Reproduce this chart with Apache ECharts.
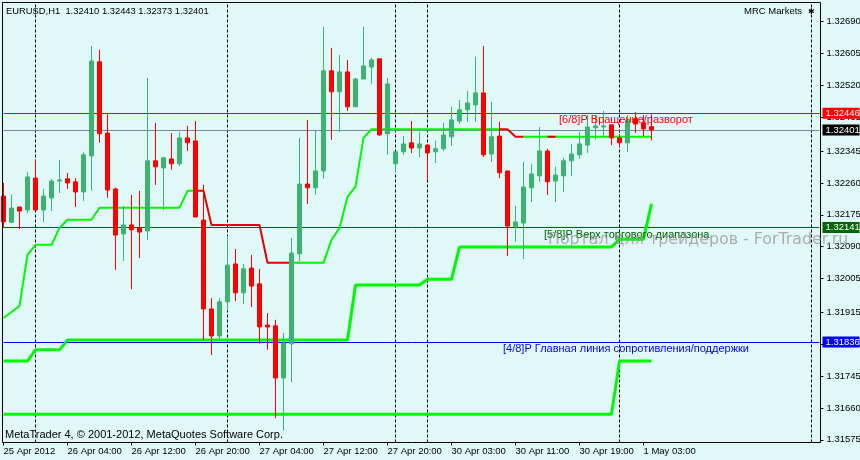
<!DOCTYPE html>
<html>
<head>
<meta charset="utf-8">
<style>html,body{margin:0;padding:0;background:#E0F8F8}#chart{width:860px;height:460px}</style>
<script src="https://cdn.jsdelivr.net/npm/echarts@6/dist/echarts.min.js"></script>
</head>
<body>
<div id="chart"></div>
<script>
// bars of EURUSD H1
var opens = [
  1.32225,1.32155,1.32196,1.32188,1.32273,1.32188,1.32220,1.32265,1.32271,1.32263,
  1.32236,1.32332,1.32583,1.32393,1.32244,1.32124,1.32148,1.32140,1.32132,1.32319,
  1.32300,1.32324,1.32311,1.32380,1.32372,1.32161,1.31924,1.31852,1.31943,1.32044,
  1.31967,1.32033,1.31991,1.31881,1.31879,1.31740,1.31831,1.32071,1.32257,1.32247,
  1.32292,1.32559,1.32503,1.32556,1.32463,1.32537,1.32569,1.32591,1.32391,1.32311,
  1.32343,1.32367,1.32353,1.32361,1.32343,1.32351,1.32383,1.32425,1.32455,1.32468,
  1.32500,1.32337,1.32385,1.32292,1.32143,1.32153,1.32247,1.32279,1.32345,1.32265,
  1.32279,1.32319,1.32335,1.32361,1.32407,1.32409,1.32415,1.32380,1.32367,1.32431,
  1.32420,1.32410
];
var closes = [
  1.32156,1.32193,1.32185,1.32276,1.32188,1.32225,1.32265,1.32268,1.32260,1.32236,
  1.32335,1.32585,1.32391,1.32241,1.32121,1.32148,1.32135,1.32129,1.32319,1.32303,
  1.32327,1.32311,1.32380,1.32367,1.32169,1.31924,1.31852,1.31943,1.32041,1.31967,
  1.32031,1.31985,1.31876,1.31876,1.31740,1.31833,1.32073,1.32257,1.32247,1.32292,
  1.32559,1.32503,1.32556,1.32463,1.32537,1.32572,1.32588,1.32388,1.32524,1.32343,
  1.32364,1.32353,1.32364,1.32340,1.32351,1.32388,1.32428,1.32455,1.32473,1.32500,
  1.32335,1.32383,1.32287,1.32145,1.32156,1.32249,1.32284,1.32345,1.32263,1.32281,
  1.32319,1.32337,1.32364,1.32409,1.32412,1.32412,1.32380,1.32367,1.32428,1.32417,
  1.32404,1.32401
];
var lows = [
  1.32140,1.32153,1.32137,1.32180,1.32188,1.32156,1.32185,1.32233,1.32244,1.32196,
  1.32212,1.32239,1.32367,1.32220,1.32028,1.32052,1.31977,1.32060,1.32108,1.32255,
  1.32188,1.32295,1.32305,1.32345,1.32169,1.31841,1.31801,1.31841,1.31919,1.31945,
  1.31937,1.31929,1.31831,1.31815,1.31633,1.31599,1.31729,1.32052,1.32204,1.32228,
  1.32271,1.32375,1.32396,1.32452,1.32463,1.32537,1.32524,1.32385,1.32335,1.32287,
  1.32335,1.32340,1.32329,1.32268,1.32313,1.32345,1.32359,1.32417,1.32423,1.32423,
  1.32329,1.32316,1.32273,1.32065,1.32103,1.32057,1.32209,1.32263,1.32228,1.32209,
  1.32236,1.32279,1.32324,1.32340,1.32375,1.32383,1.32361,1.32356,1.32343,1.32393,
  1.32385,1.32373
];
var highs = [
  1.32260,1.32228,1.32196,1.32289,1.32321,1.32244,1.32271,1.32321,1.32287,1.32273,
  1.32343,1.32625,1.32615,1.32447,1.32247,1.32199,1.32228,1.32239,1.32540,1.32420,
  1.32329,1.32393,1.32396,1.32412,1.32425,1.32255,1.31953,1.31953,1.32119,1.32084,
  1.32044,1.32068,1.32031,1.31913,1.31895,1.31860,1.32113,1.32380,1.32428,1.32399,
  1.32676,1.32620,1.32601,1.32588,1.32540,1.32676,1.32593,1.32591,1.32540,1.32343,
  1.32385,1.32425,1.32396,1.32361,1.32372,1.32420,1.32463,1.32481,1.32505,1.32596,
  1.32625,1.32476,1.32423,1.32292,1.32199,1.32316,1.32311,1.32409,1.32351,1.32303,
  1.32327,1.32364,1.32396,1.32441,1.32441,1.32452,1.32415,1.32388,1.32441,1.32449,
  1.32441,1.32443
];

// the three channel lines
var upperLine = [
  1.31900,1.31916,1.31932,1.32068,1.32095,1.32095,1.32095,1.32140,1.32162,1.32162,
  1.32162,1.32162,1.32194,1.32194,1.32194,1.32194,1.32194,1.32194,1.32194,1.32194,
  1.32194,1.32194,1.32194,1.32239,1.32239,1.32239,1.32148,1.32148,1.32148,1.32148,
  1.32148,1.32148,1.32148,1.32047,1.32047,1.32047,1.32047,1.32047,1.32047,1.32047,
  1.32047,1.32108,1.32140,1.32223,1.32250,1.32380,1.32403,1.32403,1.32403,1.32403,
  1.32403,1.32403,1.32403,1.32403,1.32403,1.32403,1.32403,1.32403,1.32403,1.32403,
  1.32403,1.32403,1.32403,1.32403,1.32383,1.32383,1.32383,1.32383,1.32383,1.32383,
  1.32383,1.32383,1.32383,1.32383,1.32383,1.32383,1.32383,1.32383,1.32383,1.32383,
  1.32383,1.32383
];
var middleLine = [
  1.31785,1.31785,1.31785,1.31785,1.31815,1.31815,1.31815,1.31815,1.31841,1.31841,
  1.31841,1.31841,1.31841,1.31841,1.31841,1.31841,1.31841,1.31841,1.31841,1.31841,
  1.31841,1.31841,1.31841,1.31841,1.31841,1.31841,1.31841,1.31841,1.31841,1.31841,
  1.31841,1.31841,1.31841,1.31841,1.31841,1.31841,1.31841,1.31841,1.31841,1.31841,
  1.31841,1.31841,1.31841,1.31841,1.31988,1.31988,1.31988,1.31988,1.31988,1.31988,
  1.31988,1.31988,1.31988,1.32003,1.32003,1.32003,1.32003,1.32089,1.32089,1.32089,
  1.32089,1.32089,1.32089,1.32089,1.32089,1.32089,1.32089,1.32089,1.32089,1.32089,
  1.32089,1.32089,1.32089,1.32089,1.32089,1.32089,1.32089,1.32110,1.32110,1.32110,
  1.32110,1.32204
];
var lowerLine = [
  1.31643,1.31643,1.31643,1.31643,1.31643,1.31643,1.31643,1.31643,1.31643,1.31643,
  1.31643,1.31643,1.31643,1.31643,1.31643,1.31643,1.31643,1.31643,1.31643,1.31643,
  1.31643,1.31643,1.31643,1.31643,1.31643,1.31643,1.31643,1.31643,1.31643,1.31643,
  1.31643,1.31643,1.31643,1.31643,1.31643,1.31643,1.31643,1.31643,1.31643,1.31643,
  1.31643,1.31643,1.31643,1.31643,1.31643,1.31643,1.31643,1.31643,1.31643,1.31643,
  1.31643,1.31643,1.31643,1.31643,1.31643,1.31643,1.31643,1.31643,1.31643,1.31643,
  1.31643,1.31643,1.31643,1.31643,1.31643,1.31643,1.31643,1.31643,1.31643,1.31643,
  1.31643,1.31643,1.31643,1.31643,1.31643,1.31643,1.31643,1.31785,1.31785,1.31785,
  1.31785,1.31785
];
// bars where the upper line turns red
var redSpans = [[24, 36], [62, 65], [68, 69]];

var barSlots = 103;
var xTickLabels = ['25 Apr 2012', '26 Apr 04:00', '26 Apr 12:00', '26 Apr 20:00', '27 Apr 04:00', '27 Apr 12:00',
  '27 Apr 20:00', '30 Apr 03:00', '30 Apr 11:00', '30 Apr 19:00', '1 May 03:00'];
var yTicks = [1.32690, 1.32605, 1.32520, 1.32435, 1.32345, 1.32260, 1.32175, 1.32090, 1.32005, 1.31915, 1.31830, 1.31745, 1.31660, 1.31575];
var periodSeparators = [4, 28, 49, 53, 77, 101];
var priceLevels = [
  {value: 1.32446, color: '#E60000', tag: '#FF0000'},
  {value: 1.32401, color: '#778899', tag: '#000000'},
  {value: 1.32141, color: '#006400', tag: '#006400'},
  {value: 1.31836, color: '#0000FF', tag: '#0000FF'}
];

var FONT = 'Liberation Sans, sans-serif';
var LIME = '#00F800';
var categories = [];
for (var i = 0; i < barSlots; i++) categories.push(String(i));

function inRed(k) {
  return redSpans.some(function (s) { return k >= s[0] && k <= s[1]; });
}
var upperGreen = upperLine.map(function (v, k) {
  var inside = redSpans.some(function (s) { return k > s[0] && k < s[1]; });
  return inside ? null : v;
});
var upperRed = upperLine.map(function (v, k) { return inRed(k) ? v : null; });

var levelLines = priceLevels.map(function (l) {
  return {
    yAxis: l.value,
    lineStyle: {color: l.color, width: 1, type: 'solid'},
    label: {
      show: true, position: 'end', distance: 3,
      formatter: l.value.toFixed(5),
      color: '#fff', backgroundColor: l.tag,
      fontFamily: FONT, fontSize: 9.5, lineHeight: 11,
      padding: [0, 2, 0, 3], width: 32
    }
  };
});
var separatorLines = periodSeparators.map(function (k) {
  return {xAxis: k, lineStyle: {color: '#000', width: 1, type: [3, 2]}, label: {show: false}};
});

function overlay(text, x, y, fill, font) {
  return {
    type: 'text', silent: true, z: 95, x: x, y: y,
    style: {text: text, fill: fill, font: font, textVerticalAlign: 'middle'}
  };
}

var chart = echarts.init(document.getElementById('chart'), null, {renderer: 'canvas'});
chart.setOption({
  animation: false,
  backgroundColor: '#E0F8F8',
  grid: {left: 3.5, top: 2.5, right: 40.5, bottom: 17.5, outerBoundsMode: 'none'},
  xAxis: {
    type: 'category', data: categories, boundaryGap: false,
    axisLine: {show: false},
    axisTick: {length: 3, lineStyle: {color: '#000'}, interval: function (i) { return i % 8 === 0 && i <= 80; }},
    axisLabel: {
      align: 'left', margin: 4, color: '#000', fontFamily: FONT, fontSize: 9.5,
      interval: function (i) { return i % 8 === 0 && i <= 80; },
      formatter: function (v) { return xTickLabels[v / 8] || ''; }
    },
    splitLine: {show: false}
  },
  yAxis: {
    type: 'value', position: 'right', offset: 1,
    min: 1.31568, max: 1.32741, scale: true,
    axisLine: {show: false},
    axisTick: {show: true, length: 3, lineStyle: {color: '#000'}, customValues: yTicks},
    axisLabel: {
      show: true, margin: 6, color: '#000', fontFamily: FONT, fontSize: 9.5, customValues: yTicks,
      formatter: function (v) { return v.toFixed(5); }
    },
    splitLine: {show: false}
  },
  series: [
    {
      name: 'lower', type: 'line', data: lowerLine, z: 1, showSymbol: false, silent: true,
      lineStyle: {color: LIME, width: 3},
      markLine: {
        silent: true, symbol: 'none', z: 1, animation: false, precision: 5,
        data: separatorLines.concat(levelLines)
      }
    },
    {name: 'middle', type: 'line', data: middleLine, z: 1, showSymbol: false, silent: true, lineStyle: {color: LIME, width: 3}},
    {name: 'upper', type: 'line', data: upperGreen, z: 1, showSymbol: false, silent: true, lineStyle: {color: LIME, width: 2}},
    {name: 'upperRed', type: 'line', data: upperRed, z: 1, showSymbol: false, silent: true, lineStyle: {color: '#E60000', width: 2}},
    {
      name: 'EURUSD', type: 'candlestick', z: 2, barWidth: 5, silent: true,
      data: opens.map(function (o, k) { return [o, closes[k], lows[k], highs[k]]; }),
      itemStyle: {color: '#3CB371', color0: '#FF0000', borderColor: '#3CB371', borderColor0: '#FF0000', borderWidth: 1}
    }
  ],
  graphic: [
    {
      type: 'rect', silent: true, z: 90,
      shape: {x: 2.5, y: 2.5, width: 818, height: 440},
      style: {fill: 'none', stroke: '#000', lineWidth: 1}
    },
    overlay('EURUSD,H1  1.32410 1.32443 1.32373 1.32401', 6, 11, '#000', '9.4px ' + FONT),
    overlay('MRC Markets', 744, 11, '#000', '9.5px ' + FONT),
    overlay('✱', 808, 12, '#000', '8px DejaVu Sans'),
    overlay('[6/8]P Вращение/разворот', 559, 120, '#FF0000', '11px ' + FONT),
    overlay('[5/8]P Верх торгового диапазона', 544, 235, '#006400', '11px ' + FONT),
    overlay('[4/8]P Главная линия сопротивления/поддержки', 503, 349, '#0000FF', '11px ' + FONT),
    overlay('Портал для трейдеров - ForTrader.ru', 548, 240, 'rgba(150,140,140,0.7)', '15.8px DejaVu Sans'),
    overlay('MetaTrader 4, © 2001-2012, MetaQuotes Software Corp.', 5, 435, '#000', '11px ' + FONT)
  ]
});
</script>
</body>
</html>
